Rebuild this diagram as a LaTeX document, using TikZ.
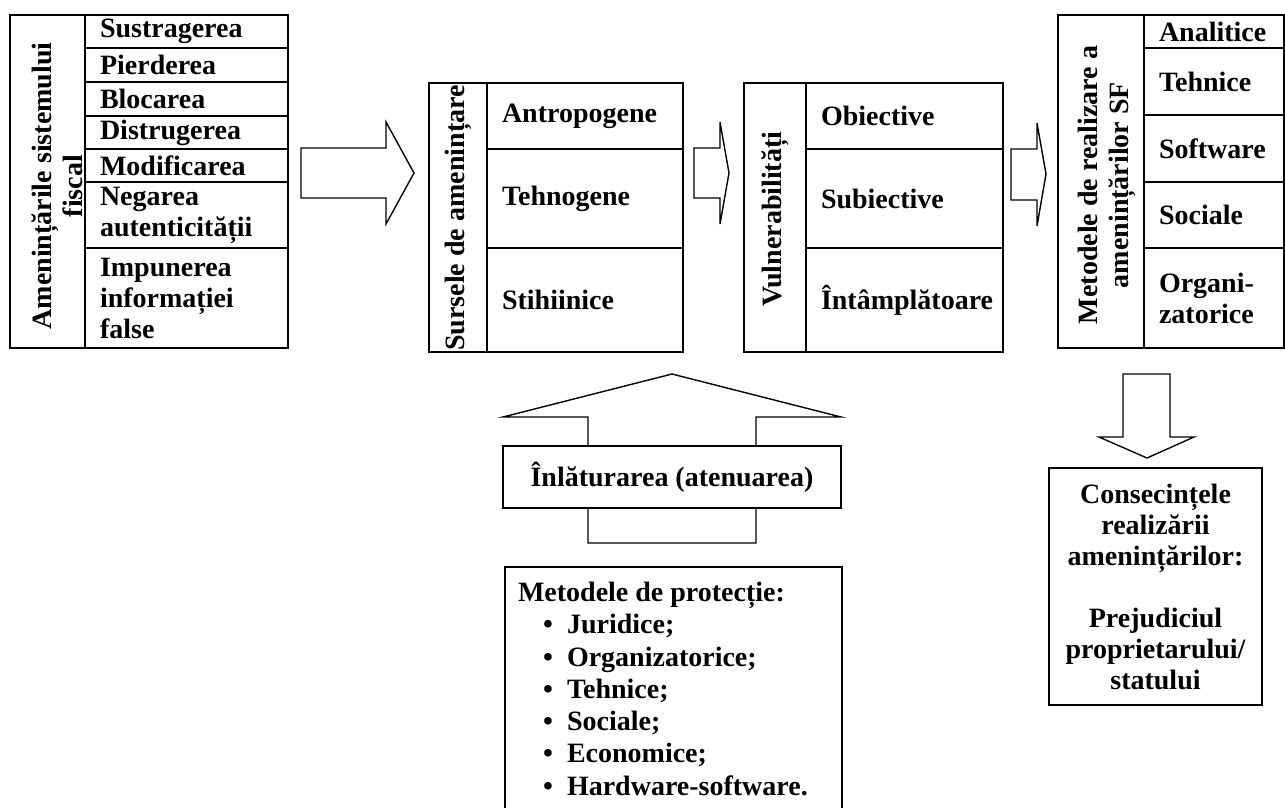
\documentclass[tikz,border=0pt]{standalone}
\usepackage{fontspec}
\setmainfont{Liberation Serif}
\usetikzlibrary{positioning}

\newcommand{\pitem}[1]{\hspace*{25pt}\makebox[24pt][l]{\textbullet}#1}

\begin{document}
\begin{tikzpicture}[x=1pt,y=-1pt,line width=1.6pt,
                    every node/.style={font=\fontsize{28}{31}\selectfont\bfseries,outer sep=0pt},
                    outerbox/.style={draw,anchor=north west,inner sep=0pt},
                    rowcell/.style={draw,anchor=north west,inner xsep=15pt,inner ysep=0pt,
                                    text width=#1,align=left},
                    vtext/.style={rotate=90,align=center,inner sep=0pt},
                    blockarrow/.style={draw,line width=1.4pt,line join=miter}]
  \useasboundingbox (0,0) rectangle (1285,807);

  % amenintarile
  \node[outerbox,minimum width=75pt,minimum height=333pt] (thrbox) at (10,15) {};
  \node[vtext] (thrtitle) at (57,186) {Amenințările sistemului\\fiscal};
  \node[rowcell=173pt,minimum height=33pt] (thr1) at (thrbox.north east) {Sustragerea};
  \node[rowcell=173pt,minimum height=34pt,below=0pt of thr1] (thr2) {Pierderea};
  \node[rowcell=173pt,minimum height=34pt,below=0pt of thr2] (thr3) {Blocarea};
  \node[rowcell=173pt,minimum height=33pt,below=0pt of thr3] (thr4) {Distrugerea};
  \node[rowcell=173pt,minimum height=33pt,below=0pt of thr4] (thr5) {Modificarea};
  \node[rowcell=173pt,minimum height=66pt,below=0pt of thr5] (thr6) {Negarea\\autenticității};
  \node[rowcell=173pt,minimum height=100pt,below=0pt of thr6] (thr7) {Impunerea\\informației\\false};

  % sursele
  \node[outerbox,minimum width=58pt,minimum height=269pt] (srcbox) at (429,83) {};
  \node[vtext] (srctitle) at (458,218) {Sursele de amenințare};
  \node[rowcell=166pt,minimum height=66pt] (src1) at (srcbox.north east) {Antropogene};
  \node[rowcell=166pt,minimum height=99pt,below=0pt of src1] (src2) {Tehnogene};
  \node[rowcell=166pt,minimum height=104pt,below=0pt of src2] (src3) {Stihiinice};

  % vulnerabilitati
  \node[outerbox,minimum width=62pt,minimum height=269pt] (vulbox) at (744,83) {};
  \node[vtext] (vultitle) at (775,219) {Vulnerabilități};
  \node[rowcell=167pt,minimum height=66pt] (vul1) at (vulbox.north east) {Obiective};
  \node[rowcell=167pt,minimum height=99pt,below=0pt of vul1] (vul2) {Subiective};
  \node[rowcell=167pt,minimum height=104pt,below=0pt of vul2] (vul3) {Întâmplătoare};

  % metodele de realizare
  \node[outerbox,minimum width=86pt,minimum height=333pt] (metbox) at (1058,15) {};
  \node[vtext] (mettitle) at (1107,185) {Metodele de realizare a\\amenințărilor SF};
  \node[rowcell=110pt,minimum height=33pt] (met1) at (metbox.north east) {Analitice};
  \node[rowcell=110pt,minimum height=67pt,below=0pt of met1] (met2) {Tehnice};
  \node[rowcell=110pt,minimum height=67pt,below=0pt of met2] (met3) {Software};
  \node[rowcell=110pt,minimum height=66pt,below=0pt of met3] (met4) {Sociale};
  \node[rowcell=110pt,minimum height=100pt,below=0pt of met4] (met5) {Organi-\\zatorice};

  % sagetile
  \draw[blockarrow] (301,148) -- (386,148) -- (386,122) -- (414,173) -- (386,224) -- (386,198) -- (301,198) -- cycle;
  \draw[blockarrow] (694,148) -- (720,148) -- (720,122) -- (729,173) -- (720,224) -- (720,198) -- (694,198) -- cycle;
  \draw[blockarrow] (1011,149) -- (1037,149) -- (1037,123) -- (1046,174) -- (1037,226) -- (1037,200) -- (1011,200) -- cycle;
  \draw[blockarrow] (672,374) -- (841,417) -- (756,417) -- (756,543) -- (588,543) -- (588,417) -- (503,417) -- cycle;
  \draw[blockarrow] (1123,374) -- (1170,374) -- (1170,437) -- (1194,437) -- (1147,458) -- (1099,437) -- (1123,437) -- cycle;

  % protectie
  \node[draw,fill=white,anchor=north west,minimum width=338pt,minimum height=62pt] (remove) at (503,446) {Înlăturarea (atenuarea)};
  \node[outerbox,minimum width=337pt,minimum height=260pt] (protbox) at (505,567) {};
  \node[inner sep=0pt,align=left,font=\fontsize{28}{32.3}\selectfont\bfseries,
        below right=15pt and 13pt of protbox.north west] (protlist)
       {Metodele de protecție:\\
        \pitem{Juridice;}\\
        \pitem{Organizatorice;}\\
        \pitem{Tehnice;}\\
        \pitem{Sociale;}\\
        \pitem{Economice;}\\
        \pitem{Hardware-software.}};

  % consecintele
  \node[outerbox,minimum width=213pt,minimum height=237pt,align=center] (conseq) at (1049,468)
       {Consecințele\\realizării\\amenințărilor:\\[31pt]Prejudiciul\\proprietarului/\\statului};
\end{tikzpicture}
\end{document}
